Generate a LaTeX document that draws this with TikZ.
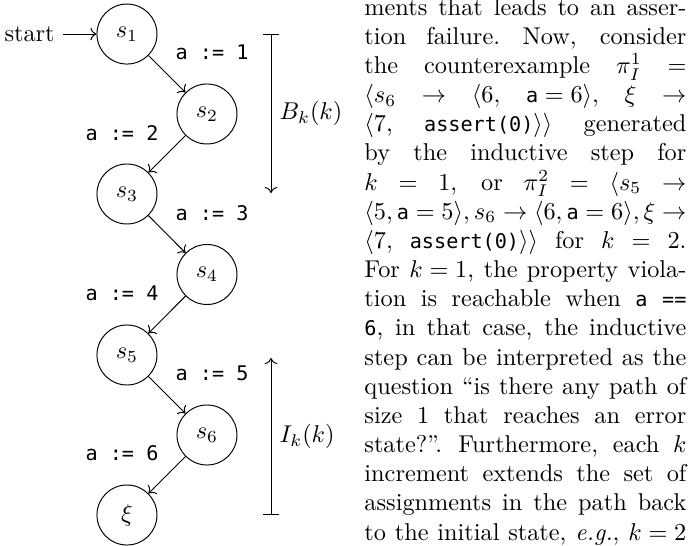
\documentclass[tikz,border=0pt]{standalone}
\usepackage{fontspec}
\setmonofont{DejaVu Sans Mono}[Scale=0.83]
\usepackage{tikz}
\usetikzlibrary{
	arrows.meta,
	positioning
}
\newcommand{\jline}[1]{\makebox[\linewidth][s]{\spaceskip=3.33pt plus 1fil\xspaceskip=4.4pt plus 1fil\relax#1}}

\begin{document}
\begin{tikzpicture}[
			state/.style={
				circle,
				draw,
				minimum size=0.868cm,
				inner sep=0pt
			},
			asg/.style={
				font=\ttfamily
			},
			arr/.style={
				->
			},
			kbar/.style={
				{Bar[width=6.2pt]}->
			}
			]
			
			\useasboundingbox (0,0) rectangle (9.963,-7.895);
			
			\node[state] (s1) at (1.836,-0.492) {$s_1$};
			\node[state] (s2) at (2.993,-1.648) {$s_2$};
			\node[state] (s3) at (1.836,-2.805) {$s_3$};
			\node[state] (s4) at (2.993,-3.969) {$s_4$};
			\node[state] (s5) at (1.836,-5.133) {$s_5$};
			\node[state] (s6) at (2.993,-6.290) {$s_6$};
			\node[state] (xi) at (1.836,-7.447) {$\xi$};
			
			\node[left=0.48cm of s1] (start) {start};
			
			\node[asg] (a1) at (3.066,-0.752) {a := 1};
			\node[asg] (a2) at (1.764,-1.923) {a := 2};
			\node[asg] (a3) at (3.066,-3.080) {a := 3};
			\node[asg] (a4) at (1.764,-4.237) {a := 4};
			\node[asg] (a5) at (3.066,-5.394) {a := 5};
			\node[asg] (a6) at (1.764,-6.550) {a := 6};
			
			\draw[arr] (start) -- (s1);
			\draw[arr] (s1) -- (s2);
			\draw[arr] (s2) -- (s3);
			\draw[arr] (s3) -- (s4);
			\draw[arr] (s4) -- (s5);
			\draw[arr] (s5) -- (s6);
			\draw[arr] (s6) -- (xi);
			
			\coordinate (bktop) at (3.919,-0.492);
			\coordinate (bkend) at (3.919,-2.791);
			\coordinate (iktip) at (3.919,-5.177);
			\coordinate (ikbot) at (3.919,-7.447);
			
			\draw[kbar] (bktop) -- (bkend) node[midway, right] (bk) {$B_k(k)$};
			\draw[kbar] (ikbot) -- (iktip) node[midway, right] (ik) {$I_k(k)$};
			
			\node[anchor=base west, text width=4.656cm, inner sep=0pt] (para) at (5.263,-0.217) {
				\jline{ments that leads to an asser-}\\
				\jline{tion failure. Now, consider}\\
				\jline{the counterexample $\pi_I^1$ $=$}\\
				\jline{$\langle s_6$ $\rightarrow$ $\langle 6,$ $\texttt{a} = 6\rangle,$ $\xi$ $\rightarrow$}\\
				\jline{$\langle 7,$ \texttt{assert(0)}$\rangle\rangle$ generated}\\
				\jline{by the inductive step for}\\
				\jline{$k$ $=$ 1, or $\pi_I^2$ $=$ $\langle s_5$ $\rightarrow$}\\
				\jline{$\langle 5, \texttt{a} = 5\rangle, s_6 \rightarrow \langle 6, \texttt{a} = 6\rangle, \xi \rightarrow$}\\
				\jline{$\langle 7,$ \texttt{assert(0)}$\rangle\rangle$ for $k$ $=$ 2.}\\
				\jline{For $k = 1$, the property viola-}\\
				\jline{tion is reachable when \texttt{a} \texttt{==}}\\
				\jline{\texttt{6}, in that case, the inductive}\\
				\jline{step can be interpreted as the}\\
				\jline{question ``is there any path of}\\
				\jline{size 1 that reaches an error}\\
				\jline{state?''. Furthermore, each $k$}\\
				\jline{increment extends the set of}\\
				\jline{assignments in the path back}\\
				\jline{to the initial state, \emph{e.g.}, $k = 2$}
			};
			
		\end{tikzpicture}
\end{document}
